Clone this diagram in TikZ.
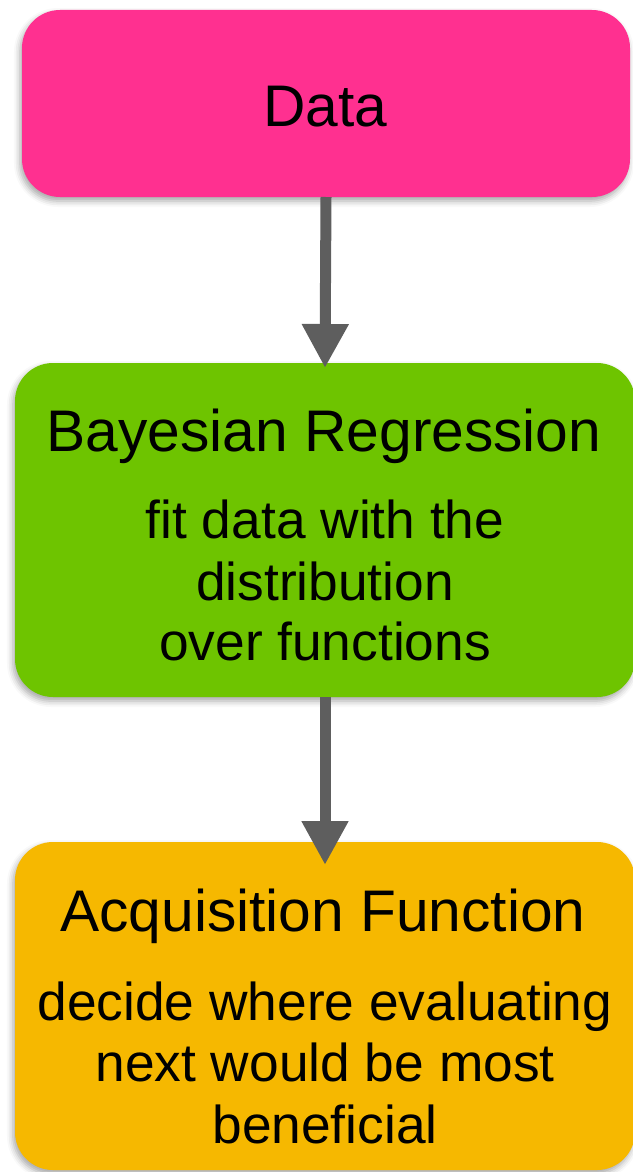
\documentclass[tikz,border=0pt]{standalone}
\usepackage{fontspec}
\setmainfont{Liberation Sans}
\usetikzlibrary{arrows.meta,shadows.blur}

\definecolor{datapink}{RGB}{255,48,144}
\definecolor{reggreen}{RGB}{110,196,0}
\definecolor{acqorange}{RGB}{246,184,0}
\definecolor{arrowgray}{RGB}{94,94,94}

\tikzset{
  stagebox/.style={rounded corners=38pt, inner sep=0pt, outer sep=0pt,
    blur shadow={shadow xshift=-2pt, shadow yshift=-4pt,
                 shadow blur radius=6pt, shadow opacity=35}},
  titletext/.style={anchor=base, font=\fontsize{58.7}{60}\selectfont},
  bodytext/.style={anchor=base, font=\fontsize{53.3}{60}\selectfont},
  flowarrow/.style={draw=arrowgray, line width=11pt,
    -{Triangle[width=44pt,length=44pt]}}
}

\begin{document}
\begin{tikzpicture}[x=1pt, y={(0pt,-1pt)}]
  \useasboundingbox (0,0) rectangle (632,1172);

  % the three stages
  \node[stagebox, fill=datapink, minimum width=608pt, minimum height=187pt]
    (data) at (326,103.5) {};
  \node[stagebox, fill=reggreen, minimum width=620pt, minimum height=334pt]
    (reg) at (325,530) {};
  \node[stagebox, fill=acqorange, minimum width=620pt, minimum height=328pt]
    (acq) at (325,1006) {};

  % connectors
  \draw[flowarrow] (data.south) -- ([yshift=-5pt]reg.north);
  \draw[flowarrow] (reg.south) -- ([yshift=-23pt]acq.north);

  % labels
  \node[titletext] (dataT) at (325,126) {Data};

  \node[titletext] (regT) at (324,451.7) {Bayesian Regression};
  \node[bodytext] (regL1) at (325,538.3) {fit data with the};
  \node[bodytext] (regL2) at (325,600) {distribution};
  \node[bodytext] (regL3) at (325,660.7) {over functions};

  \node[titletext] (acqT) at (323,931) {Acquisition Function};
  \node[bodytext] (acqL1) at (325,1020) {decide where evaluating};
  \node[bodytext] (acqL2) at (325,1081.7) {next would be most};
  \node[bodytext] (acqL3) at (325,1143.3) {beneficial};
\end{tikzpicture}
\end{document}
